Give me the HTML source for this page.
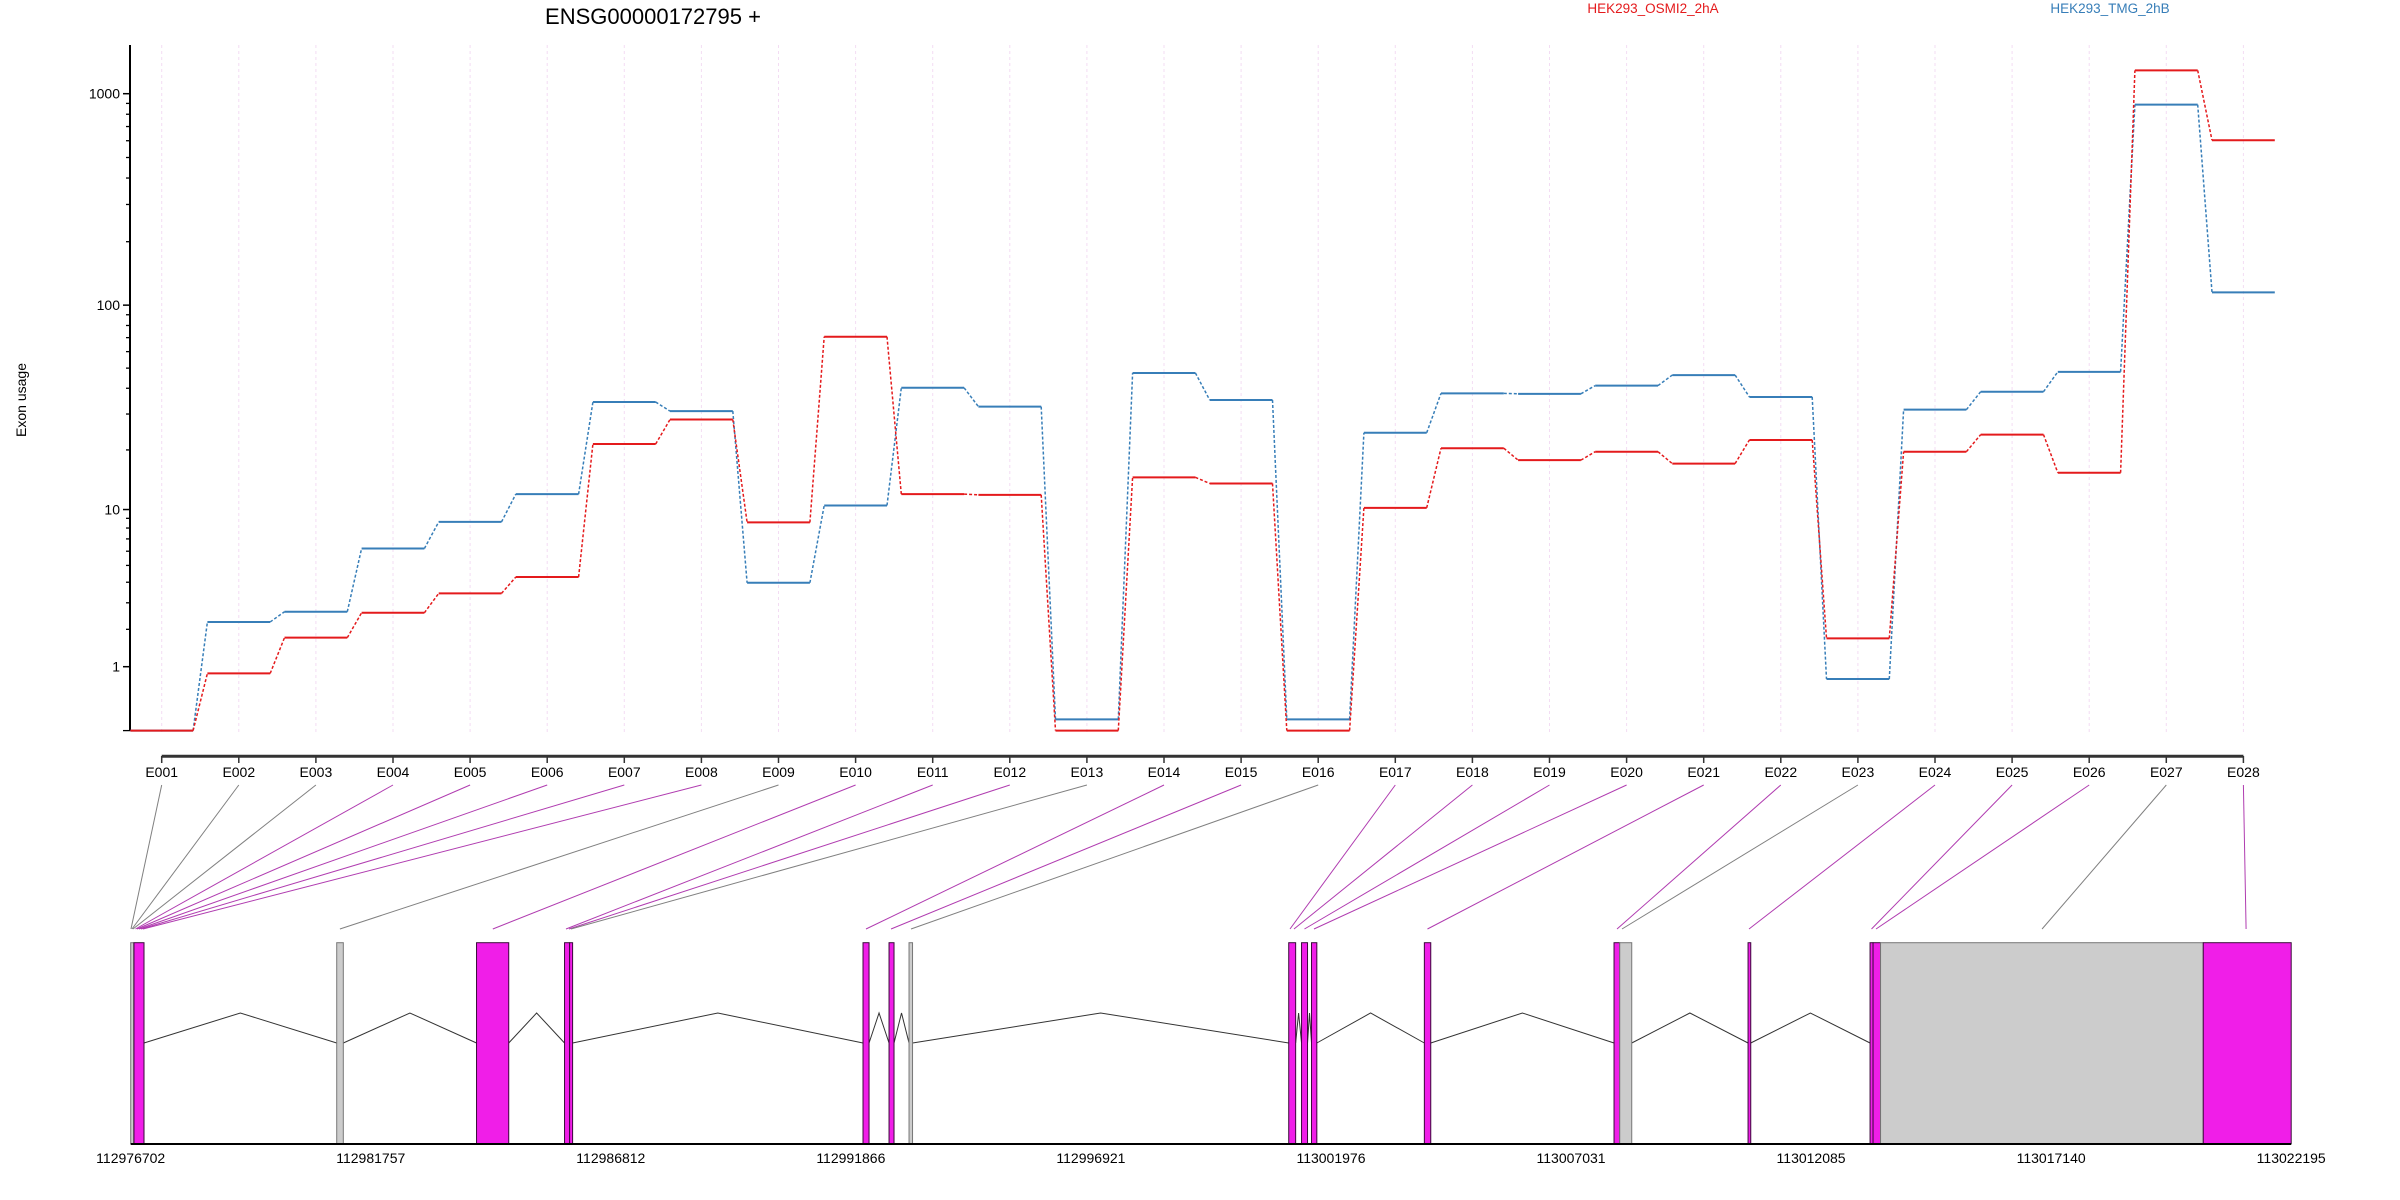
<!DOCTYPE html>
<html><head><meta charset="utf-8"><style>
html,body{margin:0;padding:0;background:#fff}
svg{display:block;font-family:"Liberation Sans",sans-serif}
</style></head><body>
<svg id="chart" width="2400" height="1200" viewBox="0 0 2400 1200">
<text x="653" y="24" font-size="22" text-anchor="middle" fill="#000">ENSG00000172795 +</text>
<text x="1653" y="13" font-size="13.5" text-anchor="middle" fill="#e41a1c">HEK293_OSMI2_2hA</text>
<text x="2110" y="13" font-size="13.5" text-anchor="middle" fill="#377eb8">HEK293_TMG_2hB</text>
<text transform="translate(26,400) rotate(-90)" font-size="14" text-anchor="middle" fill="#000">Exon usage</text>
<g id="grid"></g><g id="yaxis"></g><g id="xaxis"></g><g id="series"></g><g id="connectors"></g><g id="model"></g>
</svg>
<script>
const exonIds = ["E001","E002","E003","E004","E005","E006","E007","E008","E009","E010","E011","E012","E013","E014","E015","E016","E017","E018","E019","E020","E021","E022","E023","E024","E025","E026","E027","E028"];
const osmiValues = [0,0.86,1.74,2.59,3.43,4.29,21.4,28.2,8.57,70.7,12.0,11.9,0,14.6,13.6,0,10.2,20.4,17.8,19.6,17.1,22.4,1.72,19.6,23.8,15.4,1288,603];
const tmgValues = [0,2.25,2.63,6.21,8.62,12.0,34.3,31.0,3.97,10.5,40.2,32.6,0.13,47.4,35.1,0.13,24.3,37.8,37.6,41.2,46.3,36.3,0.75,31.5,38.5,48,888,115];
const majorTicks = [1,10,100,1000];
const majorTickLabels = ["1","10","100","1000"];
const minorTicks = [0,2,3,4,5,6,7,8,9,20,30,40,50,60,70,80,90,200,300,400,500,600,700,800,900];
const exonTargets = [112976708,112976729,112976750,112976803,112976835,112976877,112976919,112976961,112981107,112984327,112985868,112985931,112985973,112992185,112992712,112993133,113001113,113001197,113001418,113001618,113004008,113007999,113008104,113010778,113013358,113013453,113016949,113021245];
const exonTested = [0,0,0,1,1,1,1,1,0,1,1,1,0,1,1,0,1,1,1,1,1,1,0,1,1,1,0,1];
const boxStarts = [112976702,112976771,112981040,112983984,112985837,112985944,112992122,112992670,112993091,113001086,113001356,113001566,113003942,113007936,113008056,113010758,113013327,113013390,113013548,113020343];
const boxEnds   = [112976765,112976982,112981179,112984662,112985944,112986007,112992249,112992775,112993165,113001232,113001482,113001678,113004077,113008056,113008309,113010815,113013390,113013548,113020343,113022195];
const boxTested = [0,1,0,1,1,1,1,1,0,1,1,1,1,1,0,1,1,1,0,1];
const genomicTicks = [112976702,112981757,112986812,112991866,112996921,113001976,113007031,113012085,113017140,113022195];

const NS="http://www.w3.org/2000/svg";
function mk(tag,attrs,parent){const e=document.createElementNS(NS,tag);for(const k in attrs)e.setAttribute(k,attrs[k]);parent.appendChild(e);return e;}
const xE = i => 161.7 + i*77.1;
const yV = v => 730.6 - 212.27*Math.log10(v+1);
const G0=112976702, G1=113022195, PX0=130.7, PX1=2291.2;
const xG = g => PX0 + (g-G0)/(G1-G0)*(PX1-PX0);
const half = 31.4;
const grid=document.getElementById('grid'), yax=document.getElementById('yaxis'), xax=document.getElementById('xaxis'), ser=document.getElementById('series'), con=document.getElementById('connectors'), model=document.getElementById('model');

exonIds.forEach((id,i)=>{
  const l=mk('line',{x1:xE(i),x2:xE(i),y1:45,y2:735,stroke:'#f3dcf3','stroke-width':1,'stroke-dasharray':'3,3'},grid);
  
  
});
// y axis
const ya=mk('line',{x1:130,x2:130,y1:45,y2:731,stroke:'#000','stroke-width':2},yax);


majorTicks.forEach((v,i)=>{
  const t=mk('line',{x1:123,x2:130,y1:yV(v),y2:yV(v),stroke:'#000','stroke-width':1.5},yax);
  
  
  const tx=mk('text',{x:120,y:yV(v)+5,'font-size':14,'text-anchor':'end',fill:'#000'},yax);
  tx.textContent=majorTickLabels[i];
  
  
});
minorTicks.forEach(v=>{
  const t=mk('line',{x1:v===0?123:126,x2:130,y1:yV(v),y2:yV(v),stroke:'#000','stroke-width':1.3},yax);
  
  
});
// x axis
const xa=mk('line',{x1:xE(0),x2:xE(exonIds.length-1),y1:756.3,y2:756.3,stroke:'#333','stroke-width':3},xax);


exonIds.forEach((id,i)=>{
  const t=mk('line',{x1:xE(i),x2:xE(i),y1:756,y2:763,stroke:'#333','stroke-width':1.5},xax);
  
  
  const tx=mk('text',{x:xE(i),y:777,'font-size':14,'text-anchor':'middle',fill:'#000'},xax);
  tx.textContent=id;
  
  
});
// series
function drawSeries(vals,color,name){
  const g=mk('g',{},ser);
  
  
  vals.forEach((v,i)=>{
    const s=mk('line',{x1:xE(i)-half,x2:xE(i)+half,y1:yV(v),y2:yV(v),stroke:color,'stroke-width':2},g);
    
    
    if(i<vals.length-1){
      const c=mk('line',{x1:xE(i)+half,x2:xE(i+1)-half,y1:yV(v),y2:yV(vals[i+1]),stroke:color,'stroke-width':1.5,'stroke-dasharray':'3,2'},g);
      
      
    }
  });
}
drawSeries(tmgValues,'#377eb8','tmg');
drawSeries(osmiValues,'#e41a1c','osmi2');
// connectors from labels to gene model
exonIds.forEach((id,i)=>{
  const l=mk('line',{x1:xE(i),y1:785,x2:xG(exonTargets[i]),y2:929,stroke:exonTested[i]?'#b03cb0':'#808080','stroke-width':1},con);
  
  
});
// introns
for(let i=0;i<boxStarts.length-1;i++){
  const a=xG(boxEnds[i]), b=xG(boxStarts[i+1]);
  if(b-a<2) continue;
  const p=mk('polyline',{points:`${a},1043 ${(a+b)/2},1013 ${b},1043`,fill:'none',stroke:'#333','stroke-width':1},model);
  
  
}
// exon boxes
boxStarts.forEach((s,i)=>{
  const x=xG(s), w=Math.max(xG(boxEnds[i])-x,2);
  const r=mk('rect',{x:x,y:942.7,width:w,height:201,fill:boxTested[i]?'#f01ee8':'#cccccc',stroke:boxTested[i]?'#3a0a3a':'#777','stroke-width':1},model);
  
  
});
const ba=mk('line',{x1:PX0,x2:PX1,y1:1144,y2:1144,stroke:'#000','stroke-width':2},model);


genomicTicks.forEach(g=>{
  const t=mk('text',{x:xG(g),y:1163,'font-size':14,'text-anchor':'middle',fill:'#000'},model);
  t.textContent=String(g);
  
  
});
</script>
</body></html>
